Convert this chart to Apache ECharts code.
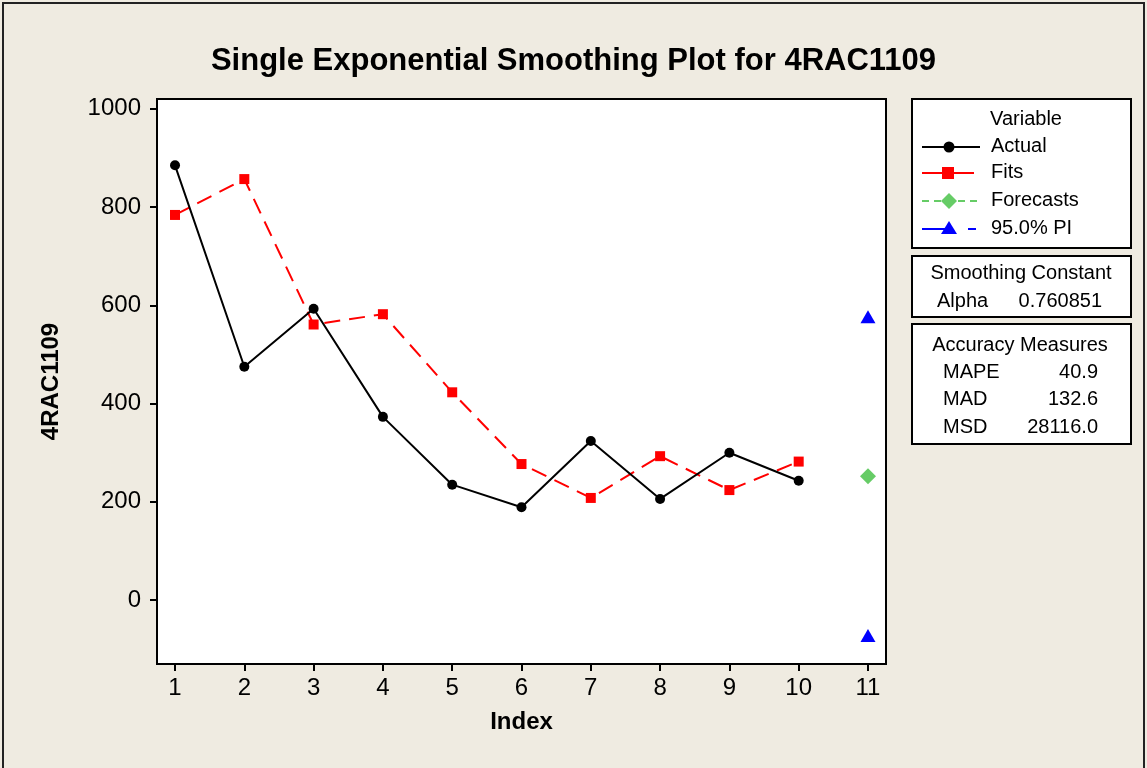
<!DOCTYPE html>
<html>
<head>
<meta charset="utf-8">
<script src="https://cdn.jsdelivr.net/npm/echarts@6/dist/echarts.min.js"></script>
<style>
html, body { margin: 0; padding: 0; background: #EFEBE1; }
#chart { width: 1147px; height: 768px; }
</style>
</head>
<body>
<div id="chart"></div>
<script>
// data
let indexValues = [1, 2, 3, 4, 5, 6, 7, 8, 9, 10];
let actualValues = [885, 475, 593, 373, 235, 189, 324, 206, 300, 243];
let fitsValues = [784, 857, 561, 582, 423, 277, 208, 293, 224, 282];
let forecastIndex = [11];
let forecastValues = [252];
let piUpper = [577];
let piLower = [-72];
let xTicks = [1, 2, 3, 4, 5, 6, 7, 8, 9, 10, 11];
let yTicks = [0, 200, 400, 600, 800, 1000];

let legendNames = ['Actual', 'Fits', 'Forecasts', '95.0% PI'];
let accuracyNames = ['MAPE', 'MAD', 'MSD'];
let accuracyValues = ['40.9', '132.6', '28116.0'];
let alphaValue = '0.760851';

function pairs(xs, ys) {
    return xs.map(function(x, i) { return [x, ys[i]]; });
}

let txtFont = 'Liberation Sans';

function txt(str, x, y, align, size, weight) {
    return {
        type: 'text',
        silent: true,
        style: {
            text: str, x: x, y: y,
            align: align, verticalAlign: 'middle',
            fontSize: size || 20, fontFamily: txtFont, fontWeight: weight || 'normal',
            fill: '#000'
        }
    };
}
function box(x, y, w, h) {
    return {
        type: 'rect', silent: true,
        shape: { x: x, y: y, width: w, height: h },
        style: { fill: '#fff', stroke: '#000', lineWidth: 2 }
    };
}
function seg(x1, y1, x2, y2, color, dash) {
    return {
        type: 'line', silent: true,
        shape: { x1: x1, y1: y1, x2: x2, y2: y2 },
        style: { stroke: color, lineWidth: 2, lineDash: dash || null }
    };
}

// legend + stat panels
let rowY = [147, 173, 201, 229];
let graphics = [
    { type: 'rect', silent: true, shape: { x: 3, y: 3, width: 1141, height: 780 },
      style: { fill: 'none', stroke: '#222', lineWidth: 2 } },
    box(912, 99, 219, 149),
    txt('Variable', 1026, 119, 'center'),
    seg(922, rowY[0], 980, rowY[0], '#000'),
    { type: 'circle', silent: true, shape: { cx: 949, cy: rowY[0], r: 5.5 }, style: { fill: '#000' } },
    seg(922, rowY[1], 974, rowY[1], '#ff0000'),
    { type: 'rect', silent: true, shape: { x: 942, y: rowY[1] - 6, width: 12, height: 12 }, style: { fill: '#ff0000' } },
    seg(922, rowY[2], 981, rowY[2], '#66cc66', [7, 5]),
    { type: 'polygon', silent: true, shape: { points: [[949, rowY[2] - 8], [957, rowY[2]], [949, rowY[2] + 8], [941, rowY[2]]] }, style: { fill: '#66cc66' } },
    seg(922, rowY[3], 948, rowY[3], '#0000ff'),
    seg(968, rowY[3], 976, rowY[3], '#0000ff'),
    { type: 'polygon', silent: true, shape: { points: [[949, rowY[3] - 8], [957, rowY[3] + 5], [941, rowY[3] + 5]] }, style: { fill: '#0000ff' } },

    box(912, 256, 219, 61),
    txt('Smoothing Constant', 1021, 273, 'center'),
    txt('Alpha', 937, 301, 'left'),
    txt(alphaValue, 1102, 301, 'right'),

    box(912, 324, 219, 120),
    txt('Accuracy Measures', 1020, 345, 'center')
];
legendNames.forEach(function(n, i) {
    graphics.push(txt(n, 991, rowY[i] - 1, 'left'));
});
accuracyNames.forEach(function(n, i) {
    graphics.push(txt(n, 943, 372 + i * 27.5, 'left'));
    graphics.push(txt(accuracyValues[i], 1098, 372 + i * 27.5, 'right'));
});

let chart = echarts.init(document.getElementById('chart'));
let option = {
    backgroundColor: '#EFEBE1',
    animation: false,
    textStyle: { fontFamily: txtFont },
    title: {
        text: 'Single Exponential Smoothing Plot for 4RAC1109',
        left: 'center',
        top: 41,
        textStyle: { fontSize: 31, fontWeight: 'bold', color: '#000', fontFamily: txtFont }
    },
    grid: {
        left: 157, right: 261, top: 99, bottom: 104,
        show: true, backgroundColor: '#fff', borderColor: '#000', borderWidth: 2,
        outerBoundsMode: 'none'
    },
    xAxis: {
        type: 'value',
        min: 0.74, max: 11.26,
        name: 'Index',
        nameLocation: 'middle',
        nameGap: 46,
        nameTextStyle: { fontSize: 24, fontWeight: 'bold', color: '#000' },
        axisLine: { onZero: false, lineStyle: { color: '#000', width: 2 } },
        axisTick: { customValues: xTicks, length: 7, lineStyle: { color: '#000', width: 2 } },
        axisLabel: { customValues: xTicks, fontSize: 24, color: '#000', margin: 12 },
        splitLine: { show: false }
    },
    yAxis: {
        type: 'value',
        min: -130, max: 1020,
        name: '4RAC1109',
        nameLocation: 'middle',
        nameGap: 94,
        nameTextStyle: { fontSize: 24, fontWeight: 'bold', color: '#000' },
        axisLine: { show: true, onZero: false, lineStyle: { color: '#000', width: 2 } },
        axisTick: { show: true, customValues: yTicks, length: 7, lineStyle: { color: '#000', width: 2 } },
        axisLabel: {
            customValues: yTicks, fontSize: 24, color: '#000', margin: 16,
            formatter: function(v) { return String(v); }
        },
        splitLine: { show: false }
    },
    series: [
        {
            name: 'Actual',
            type: 'line',
            data: pairs(indexValues, actualValues),
            symbol: 'circle',
            symbolSize: 10,
            itemStyle: { color: '#000' },
            lineStyle: { color: '#000', width: 2 },
            z: 3
        },
        {
            name: 'Fits',
            type: 'line',
            data: pairs(indexValues, fitsValues),
            symbol: 'rect',
            symbolSize: 10,
            itemStyle: { color: '#ff0000' },
            lineStyle: { color: '#ff0000', width: 2, type: [16, 9] },
            z: 2
        },
        {
            name: 'Forecasts',
            type: 'scatter',
            data: pairs(forecastIndex, forecastValues),
            symbol: 'diamond',
            symbolSize: [16, 16],
            itemStyle: { color: '#66cc66', opacity: 1 }
        },
        {
            name: '95.0% PI',
            type: 'scatter',
            data: pairs(forecastIndex, piUpper).concat(pairs(forecastIndex, piLower)),
            symbol: 'triangle',
            symbolSize: [15, 13],
            itemStyle: { color: '#0000ff', opacity: 1 }
        }
    ],
    graphic: graphics
};
chart.setOption(option);

window.addEventListener('resize', function() {
    chart.resize();
});
</script>
</body>
</html>
